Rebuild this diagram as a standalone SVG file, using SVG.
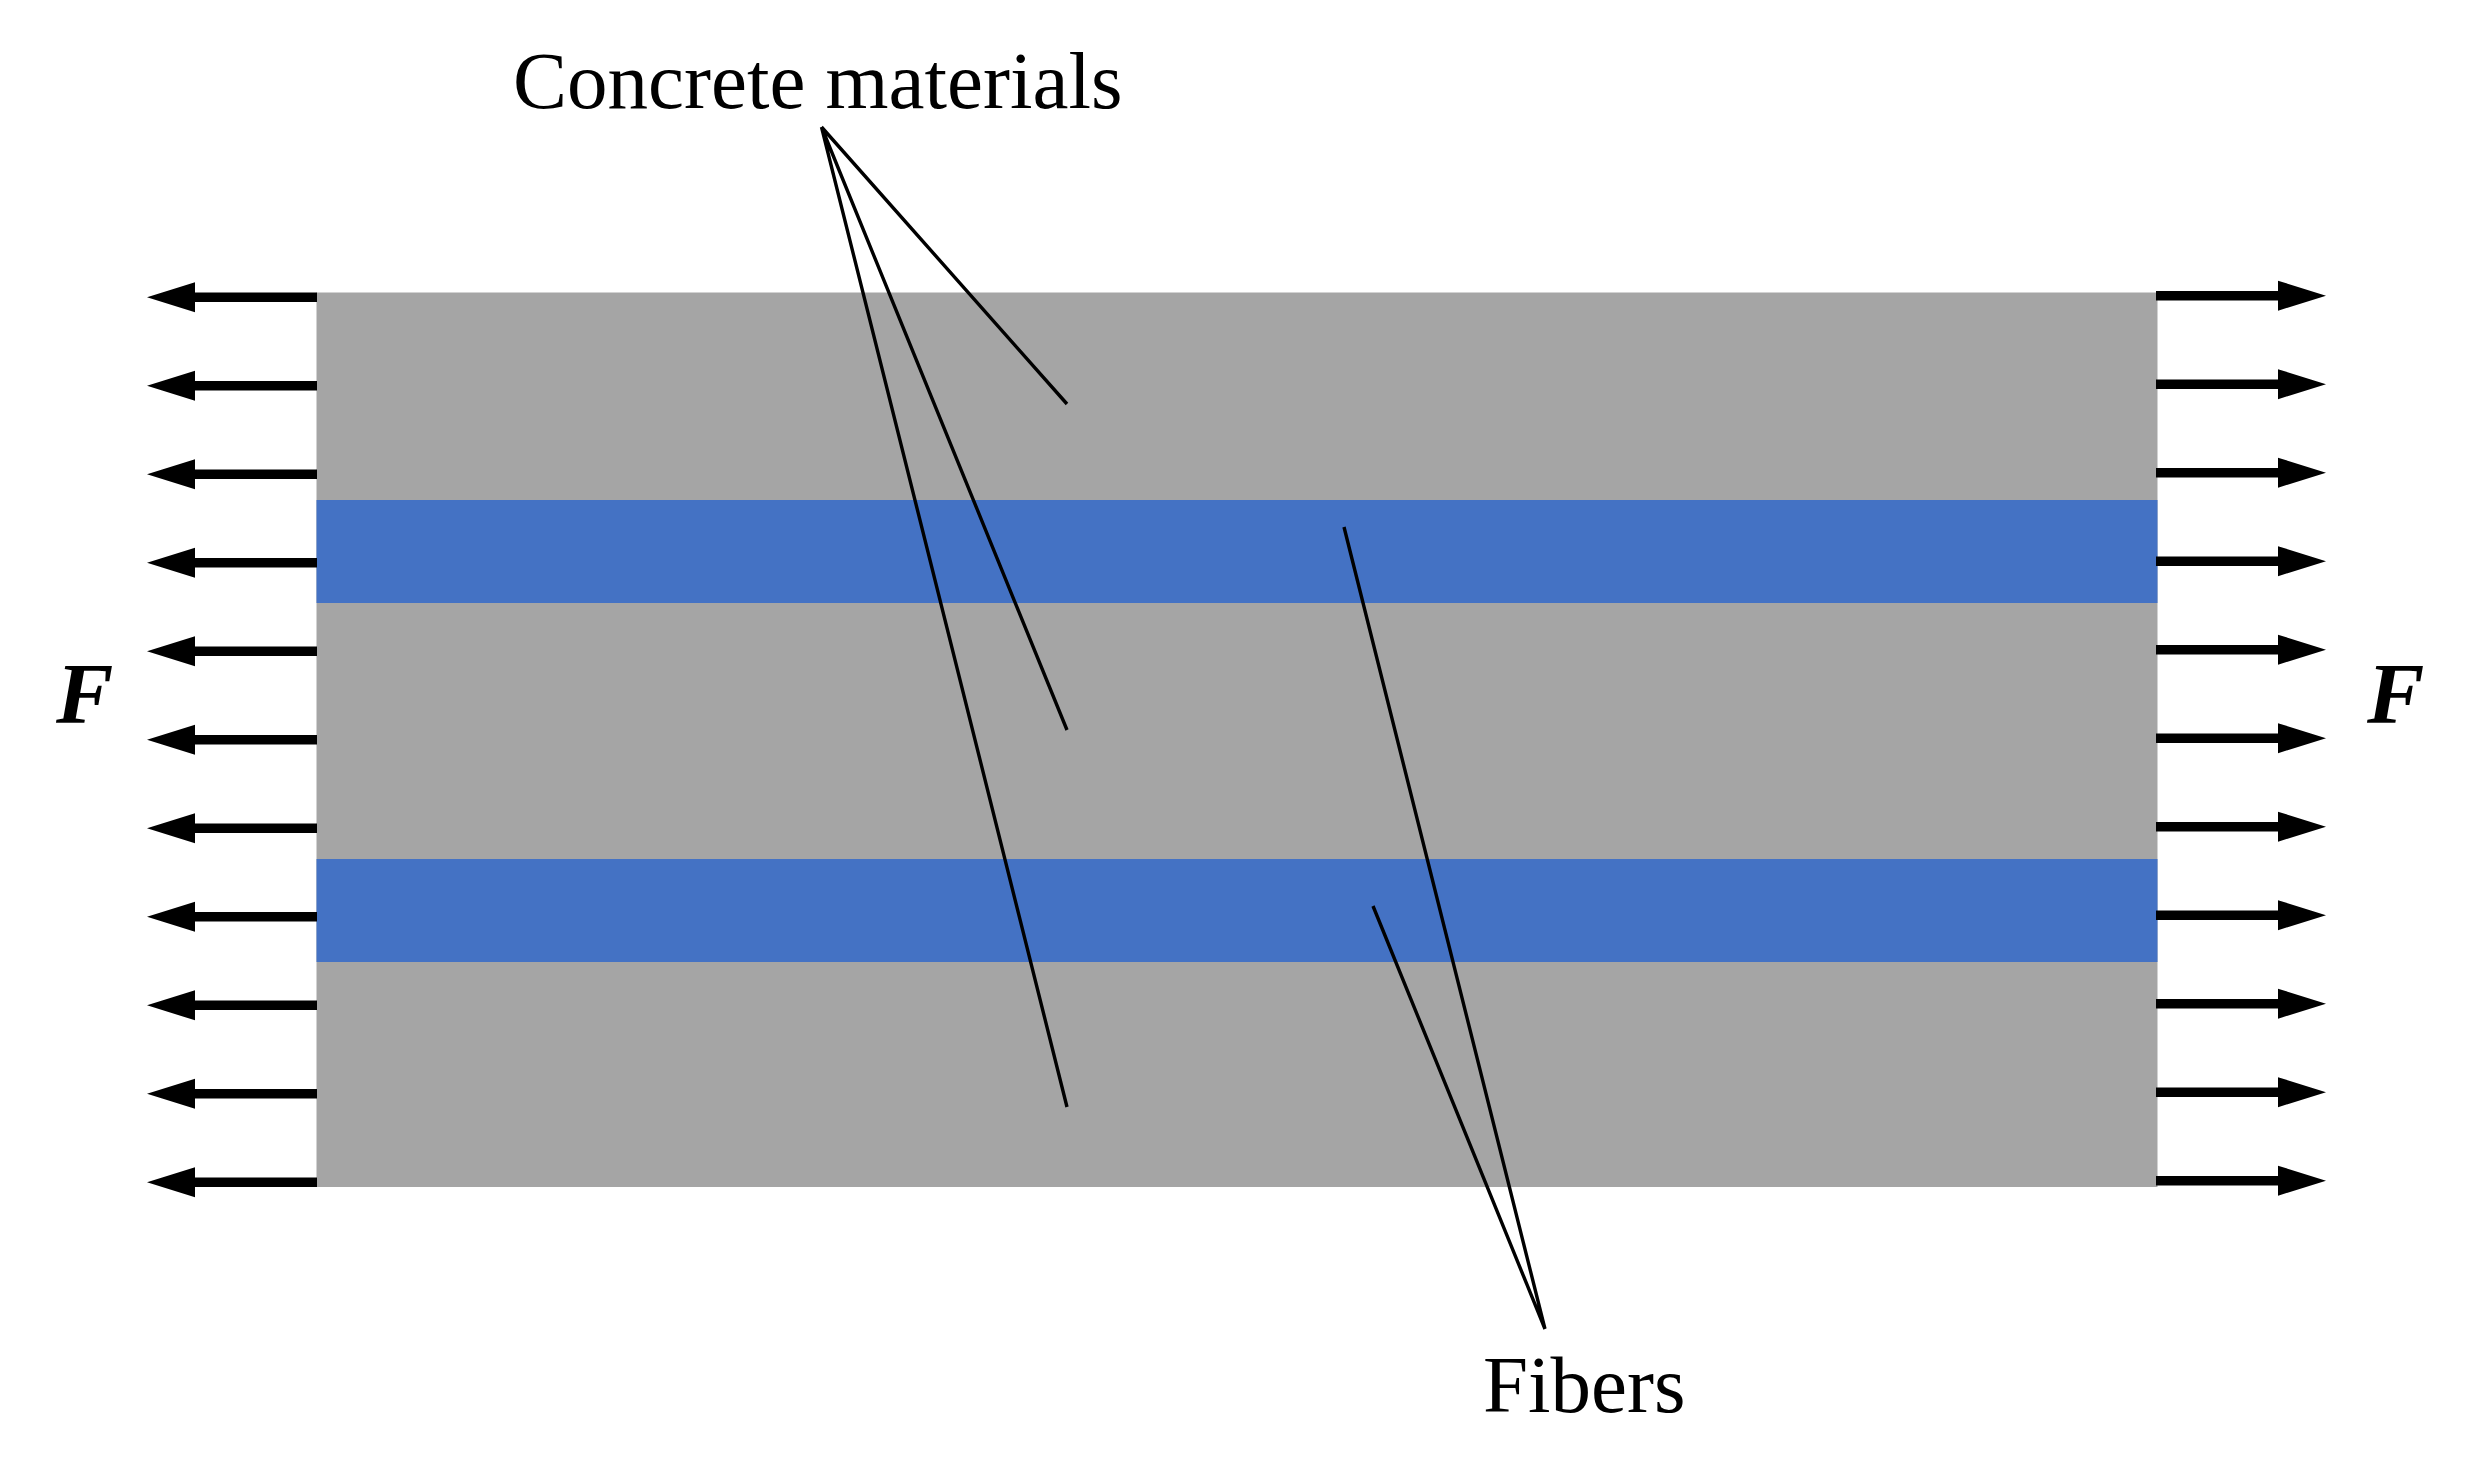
<svg xmlns="http://www.w3.org/2000/svg" width="2471" height="1459" viewBox="0 0 2471 1459">
<style>
.t{font-family:"Liberation Serif","Times New Roman",serif;font-size:81px;fill:#000}
.f{font-family:"Liberation Serif","Times New Roman",serif;font-size:86px;font-weight:bold;font-style:italic;fill:#000}
.g{fill:#a5a5a5}
.b{fill:#4472c4}
.l{stroke:#000;stroke-width:3.4;fill:none}
</style>
<defs>
<path id="al" d="M147 0L195 -15V-4.8H317V4.8H195V15Z" fill="#000"/>
<path id="ar" d="M2156 -4.8H2278V-15L2326 0L2278 15V4.8H2156Z" fill="#000"/>
</defs>
<rect width="2471" height="1459" fill="#fff"/>
<g id="concrete"><rect class="g" x="316.5" y="292.5" width="1841" height="894.5"/></g>
<g id="fiber-1"><rect class="b" x="316.5" y="500" width="1841" height="103"/></g>
<g id="fiber-2"><rect class="b" x="316.5" y="859" width="1841" height="103"/></g>
<g id="connectors">
<g id="leaders">
<path class="l" d="M821.5 127L1067 404M821.5 127L1067 730M821.5 127L1067 1107"/>
<path class="l" d="M1545 1329L1344 527M1545 1329L1373 906"/>
</g>
<g id="arrows-left">
<use href="#al" y="297.3"/><use href="#al" y="385.8"/><use href="#al" y="474.3"/><use href="#al" y="562.8"/><use href="#al" y="651.3"/><use href="#al" y="739.8"/><use href="#al" y="828.3"/><use href="#al" y="916.8"/><use href="#al" y="1005.3"/><use href="#al" y="1093.8"/><use href="#al" y="1182.3"/>
</g>
<g id="arrows-right">
<use href="#ar" y="295.7"/><use href="#ar" y="384.2"/><use href="#ar" y="472.7"/><use href="#ar" y="561.2"/><use href="#ar" y="649.7"/><use href="#ar" y="738.2"/><use href="#ar" y="826.7"/><use href="#ar" y="915.2"/><use href="#ar" y="1003.7"/><use href="#ar" y="1092.2"/><use href="#ar" y="1180.7"/>
</g>
</g>
<g id="label-concrete"><text class="t" x="513" y="108">Concrete materials</text></g>
<g id="label-fibers"><text class="t" x="1483" y="1412">Fibers</text></g>
<g id="label-f-left"><text class="f" x="56" y="723">F</text></g>
<g id="label-f-right"><text class="f" x="2367" y="723">F</text></g>
</svg>
